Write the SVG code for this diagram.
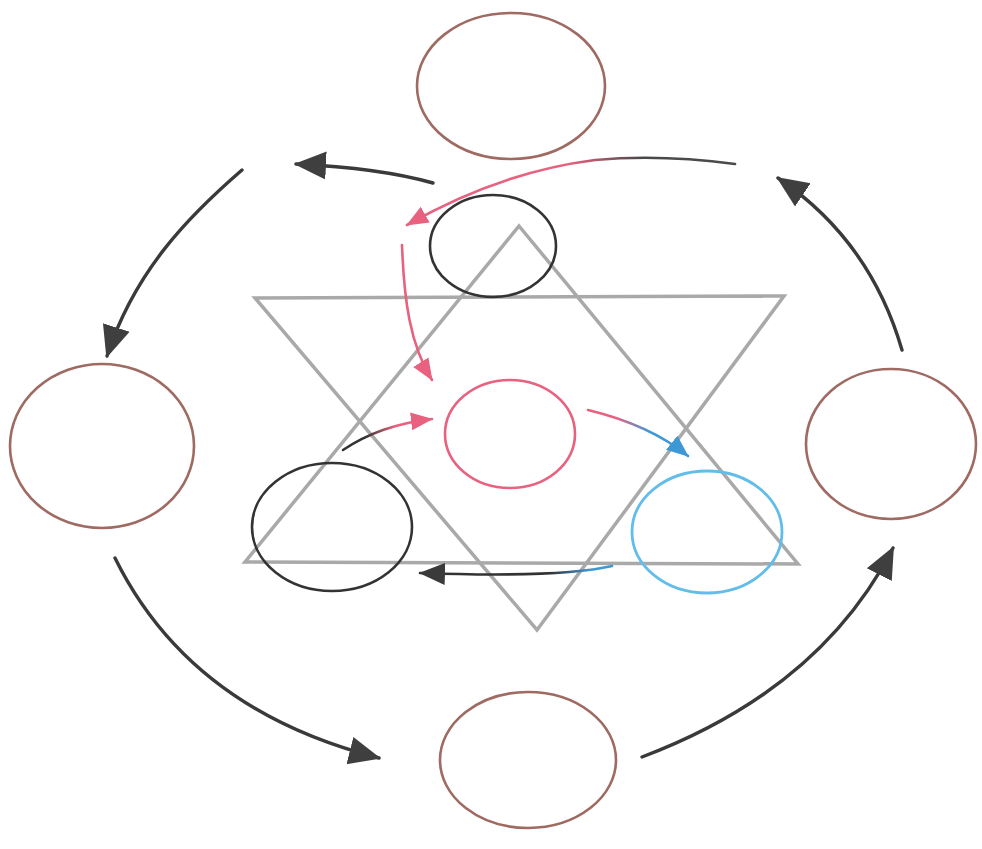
<svg xmlns="http://www.w3.org/2000/svg" width="982" height="849" viewBox="0 0 982 849">
<style>
.outer{fill:none;stroke:#9e6a62;stroke-width:2.6}
.blk{fill:none;stroke:#333;stroke-width:2.6}
.star{fill:none;stroke:#a9a9a9;stroke-width:3.5;stroke-linejoin:miter}
.dark{fill:none;stroke:#3a3a3a;stroke-width:3.4;stroke-linecap:round}
.thin{fill:none;stroke-width:2.6;stroke-linecap:round}
</style>
<defs>
<marker id="bigHead" markerUnits="userSpaceOnUse" viewBox="0 0 32 30" markerWidth="32" markerHeight="30" refX="30" refY="15" orient="auto"><path d="M0,1 L32,15 L0,29 z" fill="#3f3f3f"/></marker>
<marker id="pinkHead" markerUnits="userSpaceOnUse" viewBox="0 0 22 20" markerWidth="22" markerHeight="20" refX="21" refY="10" orient="auto"><path d="M0,1 L22,10 L0,19 z" fill="#e8627f"/></marker>
<marker id="blueHead" markerUnits="userSpaceOnUse" viewBox="0 0 22 20" markerWidth="22" markerHeight="20" refX="21" refY="10" orient="auto"><path d="M0,1 L22,10 L0,19 z" fill="#3f98d6"/></marker>
<marker id="darkHead" markerUnits="userSpaceOnUse" viewBox="0 0 26 24" markerWidth="26" markerHeight="24" refX="25" refY="12" orient="auto"><path d="M0,1 L26,12 L0,23 z" fill="#3a3a3a"/></marker>
<linearGradient id="gTop" gradientUnits="userSpaceOnUse" x1="640" y1="0" x2="570" y2="0"><stop offset="0" stop-color="#4a4a4a"/><stop offset="1" stop-color="#e8627f"/></linearGradient>
<linearGradient id="gLeft" gradientUnits="userSpaceOnUse" x1="365" y1="0" x2="395" y2="0"><stop offset="0" stop-color="#333"/><stop offset="1" stop-color="#e8627f"/></linearGradient>
<linearGradient id="gRight" gradientUnits="userSpaceOnUse" x1="615" y1="0" x2="650" y2="0"><stop offset="0" stop-color="#e8627f"/><stop offset="1" stop-color="#3f98d6"/></linearGradient>
<linearGradient id="gBottom" gradientUnits="userSpaceOnUse" x1="590" y1="0" x2="550" y2="0"><stop offset="0" stop-color="#3f98d6"/><stop offset="1" stop-color="#333"/></linearGradient>
</defs>
<rect width="982" height="849" fill="#fff"/>
<g id="star">
<polygon class="star" points="519,226 798,564 245,562"/>
<polygon class="star" points="255,298 784,296 537,630"/>
</g>
<g id="node-top"><ellipse class="outer" cx="511" cy="86" rx="94" ry="73"/></g>
<g id="node-left"><ellipse class="outer" cx="102" cy="446" rx="92" ry="82"/></g>
<g id="node-right"><ellipse class="outer" cx="891" cy="444" rx="85" ry="75"/></g>
<g id="node-bottom"><ellipse class="outer" cx="528" cy="760" rx="88" ry="68"/></g>
<g id="node-inner-top"><ellipse class="blk" cx="493" cy="246" rx="63" ry="51"/></g>
<g id="node-inner-left"><ellipse class="blk" cx="332" cy="527" rx="80" ry="64"/></g>
<g id="node-center"><ellipse cx="510" cy="434" rx="65" ry="54" fill="none" stroke="#e8627f" stroke-width="2.6"/></g>
<g id="node-inner-right"><ellipse cx="707" cy="532" rx="75" ry="61" fill="none" stroke="#62bde8" stroke-width="2.8"/></g>
<g id="connectors">
<path class="dark" d="M433,183 Q380,168 296,164" marker-end="url(#bigHead)"/>
<path class="dark" d="M242,170 C190,215 135,270 107,356" marker-end="url(#bigHead)"/>
<path class="dark" d="M115,558 Q190,710 379,758" marker-end="url(#bigHead)"/>
<path class="dark" d="M642,757 Q820,690 893,548" marker-end="url(#bigHead)"/>
<path class="dark" d="M902,350 Q870,240 778,178" marker-end="url(#bigHead)"/>
<path class="thin" stroke="url(#gTop)" d="M735,164 Q660,154 595,160 Q500,172 407,225" marker-end="url(#pinkHead)"/>
<path class="thin" stroke="#e8627f" d="M402,245 C404,300 410,345 432,380" marker-end="url(#pinkHead)"/>
<path class="thin" stroke="url(#gLeft)" stroke-width="3" d="M343,450 Q380,425 432,419" marker-end="url(#pinkHead)"/>
<path class="thin" stroke="url(#gRight)" stroke-width="3" d="M588,410 Q650,425 688,456" marker-end="url(#blueHead)"/>
<path class="thin" stroke="url(#gBottom)" stroke-width="3.2" d="M612,566 Q560,578 420,573" marker-end="url(#darkHead)"/>
</g>
</svg>
